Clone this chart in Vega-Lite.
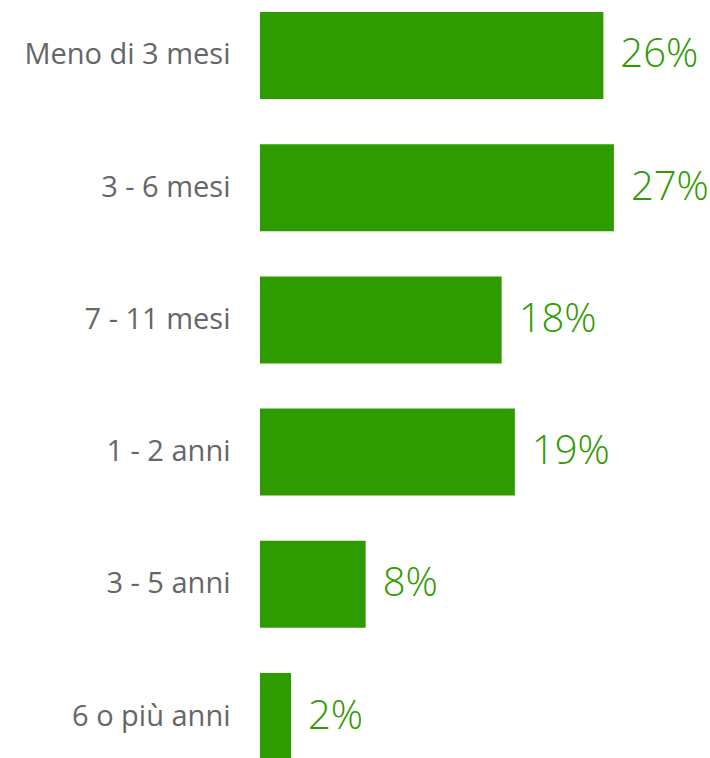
{
  "$schema": "https://vega.github.io/schema/vega-lite/v6.json",
  "autosize": "none",
  "padding": {"left": 260, "top": 0, "right": 0, "bottom": 0},
  "width": 449,
  "height": 772,
  "background": "white",
  "config": {"view": {"stroke": null}},
  "data": {
    "values": [
      {"durata": "Meno di 3 mesi", "valore": 26.0, "etichetta": "26%"},
      {"durata": "3 - 6 mesi", "valore": 26.8, "etichetta": "27%"},
      {"durata": "7 - 11 mesi", "valore": 18.3, "etichetta": "18%"},
      {"durata": "1 - 2 anni", "valore": 19.3, "etichetta": "19%"},
      {"durata": "3 - 5 anni", "valore": 8.0, "etichetta": "8%"},
      {"durata": "6 o più anni", "valore": 2.35, "etichetta": "2%"}
    ]
  },
  "encoding": {
    "y": {
      "field": "durata",
      "type": "nominal",
      "sort": null,
      "scale": {"paddingInner": 0.342, "paddingOuter": 0.0908},
      "axis": {
        "title": null,
        "domain": false,
        "ticks": false,
        "labelPadding": 30,
        "labelFont": "Open Sans",
        "labelFontSize": 29,
        "labelColor": "#666666",
        "labelLimit": 260
      }
    },
    "x": {
      "field": "valore",
      "type": "quantitative",
      "scale": {"domain": [0, 34], "nice": false},
      "axis": null
    }
  },
  "layer": [
    {"mark": {"type": "bar", "color": "#2e9b00"}},
    {
      "mark": {
        "type": "text",
        "align": "left",
        "baseline": "middle",
        "dx": 17,
        "font": "Open Sans",
        "fontWeight": 300,
        "fontSize": 40,
        "color": "#2e9b00"
      },
      "encoding": {"text": {"field": "etichetta"}}
    }
  ]
}
